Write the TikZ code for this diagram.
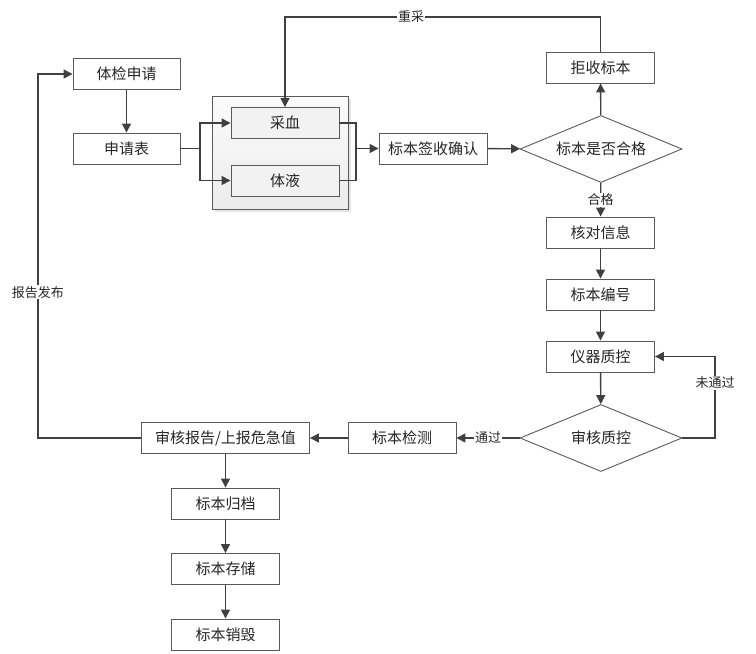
\documentclass[tikz,border=0pt]{standalone}
\usepackage{fontspec}
\setmainfont{Noto Sans CJK SC}
\usetikzlibrary{shapes.geometric, arrows.meta, shadows}
\definecolor{linegray}{RGB}{64,64,64}
\definecolor{boxgray}{RGB}{90,90,90}
\tikzstyle{process} = [rectangle, minimum width=108pt, minimum height=31pt, text centered, draw=boxgray, line width=0.9pt, text=black!85, font=\fontsize{15}{17}\selectfont]
\tikzstyle{sample} = [process, fill=gray!10]
\tikzstyle{decision} = [diamond, aspect=2.4, minimum width=162pt, minimum height=67pt, inner sep=1pt, text centered, draw=boxgray, line width=0.9pt, text=black!85, font=\fontsize{15}{17}\selectfont]
\tikzstyle{group} = [rectangle, minimum width=136pt, minimum height=113pt, draw=boxgray, line width=0.9pt, top color=gray!3, bottom color=gray!15, drop shadow={shadow xshift=2.5pt, shadow yshift=-2.5pt, fill=black!20}]
\tikzstyle{wire} = [draw=linegray, line width=1.4pt]
\tikzstyle{arrow} = [wire, -{Triangle[length=9pt,width=9pt]}]
\tikzstyle{tag} = [fill=white, inner sep=1pt, text=black!85, font=\fontsize{13}{15}\selectfont]

\begin{document}
\begin{tikzpicture}[x=1pt, y=-1pt, node distance=62pt]
		\useasboundingbox (0,0) rectangle (756,654);
		\node (tijian) [process, minimum width=107pt] at (126.5,74) {体检申请};
		\node (shenqing) [process, minimum width=107pt] at (126.5,148.5) {申请表};
		\node (group) [group] at (280,152.5) {};
		\node (caixue) [sample] at (285,123) {采血};
		\node (tiye) [sample] at (285,180.5) {体液};
		\node (qianshou) [process] at (433,148.5) {标本签收确认};
		\node (hege) [decision] at (601,149) {标本是否合格};
		\node (jushou) [process] at (600.5,67.5) {拒收标本};
		\node (hedui) [process] at (600.5,232.5) {核对信息};
		\node (bianhao) [process, below of = hedui] {标本编号};
		\node (yiqi) [process, below of = bianhao] {仪器质控};
		\node (shenhe) [decision] at (601,438) {审核质控};
		\node (jiance) [process] at (402,438) {标本检测};
		\node (shenbao) [process, minimum width=168pt] at (225.5,438) {审核报告/上报危急值};
		\node (guidang) [process, below of = shenbao, yshift = -3.5pt] {标本归档};
		\node (cunchu) [process, below of = guidang, yshift = -3.5pt] {标本存储};
		\node (xiaohui) [process, below of = cunchu, yshift = -3.5pt] {标本销毁};
		\coordinate (fork) at (200,148.5);
		\coordinate (merge) at (356,148.5);
		\coordinate (top) at (600.5,17);
		\coordinate (retry) at (715,438);
		\coordinate (back) at (38,438);
		\draw [arrow] (tijian) -- (shenqing);
		\draw [wire] (shenqing) -- (fork);
		\draw [arrow] (fork) |- (caixue);
		\draw [arrow] (fork) |- (tiye);
		\draw [wire] (caixue) -| (merge);
		\draw [wire] (tiye) -| (merge);
		\draw [arrow] (merge) -- (qianshou);
		\draw [arrow] (qianshou) -- (hege);
		\draw [arrow] (hege) -- (jushou);
		\draw [arrow] (jushou) -- (top) -| node[tag, pos=0.3] {重采} (caixue);
		\draw [arrow] (hege) -- node[tag] {合格} (hedui);
		\draw [arrow] (hedui) -- (bianhao);
		\draw [arrow] (bianhao) -- (yiqi);
		\draw [arrow] (yiqi) -- (shenhe);
		\draw [arrow] (shenhe) -- (retry) |- node[tag, pos=0.34] {未通过} (yiqi);
		\draw [arrow] (shenhe) -- node[tag] {通过} (jiance);
		\draw [arrow] (jiance) -- (shenbao);
		\draw [arrow] (shenbao) -- (back) |- node[tag, pos=0.2] {报告发布} (tijian);
		\draw [arrow] (shenbao) -- (guidang);
		\draw [arrow] (guidang) -- (cunchu);
		\draw [arrow] (cunchu) -- (xiaohui);
	\end{tikzpicture}
\end{document}
